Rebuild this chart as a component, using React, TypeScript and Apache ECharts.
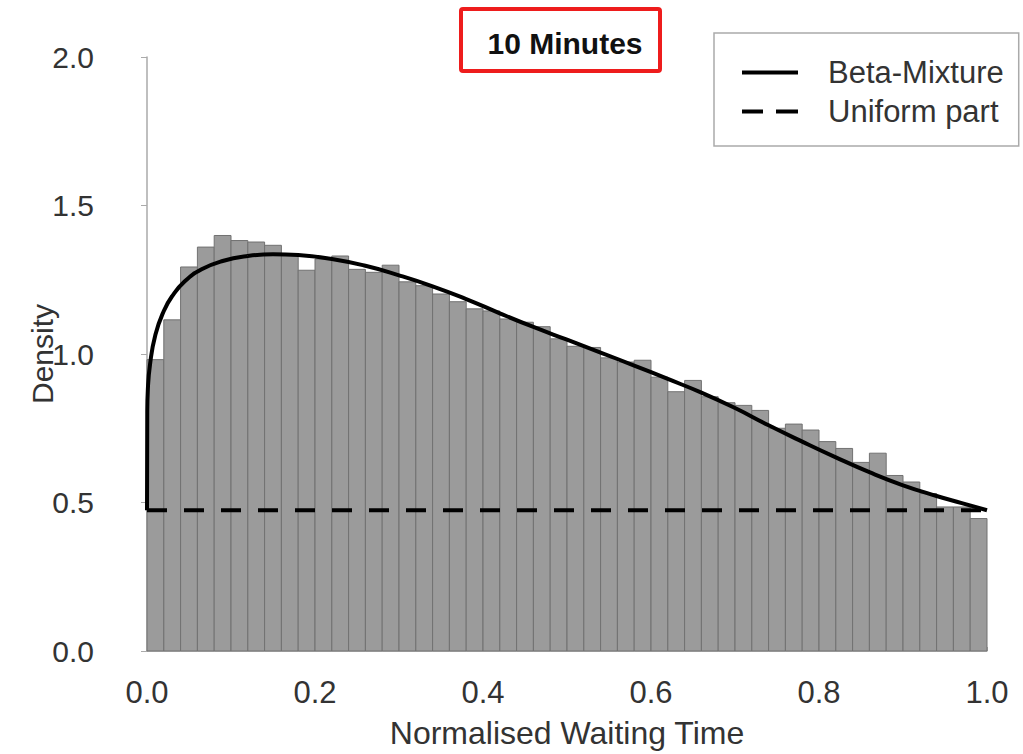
import React, { useEffect, useRef } from "react";
import * as echarts from "echarts";

// Histogram: 50 bins on [0, 1]
const binWidth = 0.02;
const densities = [
  0.981, 1.115, 1.293, 1.36, 1.399, 1.382, 1.377, 1.366, 1.332, 1.282,
  1.32, 1.33, 1.285, 1.275, 1.299, 1.243, 1.23, 1.202, 1.176, 1.152,
  1.145, 1.118, 1.107, 1.092, 1.051, 1.026, 1.022, 0.987, 0.973, 0.979,
  0.922, 0.873, 0.911, 0.856, 0.836, 0.827, 0.81, 0.75, 0.764, 0.744,
  0.705, 0.682, 0.635, 0.666, 0.591, 0.569, 0.53, 0.485, 0.485, 0.446,
];

// Beta-mixture density curve
const curveX = [
  0, 0.0003, 0.001, 0.0036, 0.01, 0.02, 0.03, 0.045, 0.065, 0.09, 0.12, 0.15,
  0.18, 0.22, 0.26, 0.3, 0.34, 0.38, 0.42, 0.46, 0.5, 0.54, 0.58, 0.62, 0.66,
  0.7, 0.74, 0.78, 0.82, 0.86, 0.9, 0.94, 0.97, 1.0,
];
const curveY = [
  0.474, 0.8, 0.88, 0.965, 1.065, 1.145, 1.195, 1.245, 1.285, 1.313, 1.33,
  1.336, 1.333, 1.32, 1.297, 1.265, 1.228, 1.185, 1.137, 1.091, 1.048, 1.005,
  0.961, 0.916, 0.87, 0.818, 0.76, 0.705, 0.652, 0.602, 0.558, 0.522, 0.498,
  0.474,
];

// Uniform component level
const uniformX = [0, 1];
const uniformY = [0.474, 0.474];

const xTicks = ["0.0", "0.2", "0.4", "0.6", "0.8", "1.0"];
const yTicks = ["0.0", "0.5", "1.0", "1.5", "2.0"];

const FONT = "'Liberation Sans', Arial, sans-serif";

export default function App() {
  const ref = useRef<HTMLDivElement>(null);

  useEffect(() => {
    if (!ref.current) return;
    const chart = echarts.init(ref.current, undefined, { renderer: "svg" });

    const histData = densities.map((d, i) => [i * binWidth, (i + 1) * binWidth, d]);
    const curveData = curveX.map((x, i) => [x, curveY[i]]);
    const uniformData = uniformX.map((x, i) => [x, uniformY[i]]);

    chart.setOption({
      animation: false,
      backgroundColor: "#ffffff",
      textStyle: { fontFamily: FONT },
      grid: { left: 147, right: 36, top: 57, bottom: 99, containLabel: false },
      xAxis: {
        type: "value",
        min: 0,
        max: 1,
        interval: 0.2,
        offset: 23,
        name: "Normalised Waiting Time",
        nameLocation: "middle",
        nameGap: 43,
        nameMoveOverlap: false,
        nameTextStyle: { fontSize: 32, color: "#333", fontFamily: FONT },
        axisLine: { show: true, lineStyle: { color: "#aaaaaa", width: 1.5 } },
        axisTick: { show: true, inside: true, length: 4, lineStyle: { color: "#aaaaaa" } },
        axisLabel: {
          fontSize: 31,
          color: "#333",
          margin: 3,
          fontFamily: FONT,
          formatter: (v: number) => xTicks[Math.round(v / 0.2)] ?? v.toFixed(1),
        },
        splitLine: { show: false },
      },
      yAxis: {
        type: "value",
        min: 0,
        max: 2,
        interval: 0.5,
        offset: 33,
        name: "Density",
        nameLocation: "middle",
        nameGap: 57,
        nameMoveOverlap: false,
        nameRotate: 90,
        nameTextStyle: { fontSize: 30, color: "#333", fontFamily: FONT },
        axisLine: { show: true, lineStyle: { color: "#aaaaaa", width: 1.5 } },
        axisTick: { show: true, length: 6, lineStyle: { color: "#aaaaaa" } },
        axisLabel: {
          fontSize: 30,
          color: "#333",
          margin: 20,
          fontFamily: FONT,
          formatter: (v: number) => yTicks[Math.round(v / 0.5)] ?? v.toFixed(1),
        },
        splitLine: { show: false },
      },
      legend: {
        orient: "vertical",
        left: 714,
        top: 33,
        padding: [24, 15, 19, 28],
        itemGap: 8,
        itemWidth: 56,
        itemHeight: 4,
        borderColor: "#aaaaaa",
        borderWidth: 1.5,
        borderRadius: 0,
        data: [
          { name: "Beta-Mixture", icon: "path://M0,0h56v4h-56z" },
          { name: "Uniform part", icon: "path://M0,0h21v4h-21zM34,0h22v4h-22z" },
        ],
        textStyle: {
          fontSize: 31,
          lineHeight: 30,
          color: "#333",
          fontFamily: FONT,
          padding: [0, 0, 0, 25],
        },
      },
      graphic: [
        {
          type: "rect",
          shape: { x: 461, y: 9, width: 199, height: 62, r: 2 },
          style: { fill: "none", stroke: "#ee1c1c", lineWidth: 4 },
          z: 10,
        },
        {
          type: "text",
          x: 565,
          y: 43,
          style: {
            text: "10 Minutes",
            fontSize: 30,
            fontWeight: "bold",
            fontFamily: FONT,
            fill: "#111",
            align: "center",
            verticalAlign: "middle",
          },
          z: 10,
        },
      ],
      series: [
        {
          name: "Histogram",
          type: "custom",
          data: histData,
          encode: { x: [0, 1], y: 2 },
          renderItem: (params: any, api: any) => {
            const x0 = api.value(0);
            const x1 = api.value(1);
            const y = api.value(2);
            const p0 = api.coord([x0, y]);
            const p1 = api.coord([x1, 0]);
            return {
              type: "rect",
              shape: { x: p0[0], y: p0[1], width: p1[0] - p0[0], height: p1[1] - p0[1] },
              style: { fill: "#9b9b9b", stroke: "#717171", lineWidth: 1 },
            };
          },
          z: 1,
        },
        {
          name: "Uniform part",
          type: "line",
          data: uniformData,
          symbol: "none",
          lineStyle: { color: "#000", width: 4, type: [20, 17], cap: "butt" },
          itemStyle: { color: "#000" },
          z: 3,
        },
        {
          name: "Beta-Mixture",
          type: "line",
          data: curveData,
          symbol: "none",
          smooth: 0.5,
          lineStyle: { color: "#000", width: 4 },
          itemStyle: { color: "#000" },
          z: 4,
        },
      ],
    });

    return () => chart.dispose();
  }, []);

  return (
    <div
      ref={ref}
      style={{ position: "fixed", left: 0, top: 0, width: 1023, height: 754, background: "#fff" }}
    />
  );
}
